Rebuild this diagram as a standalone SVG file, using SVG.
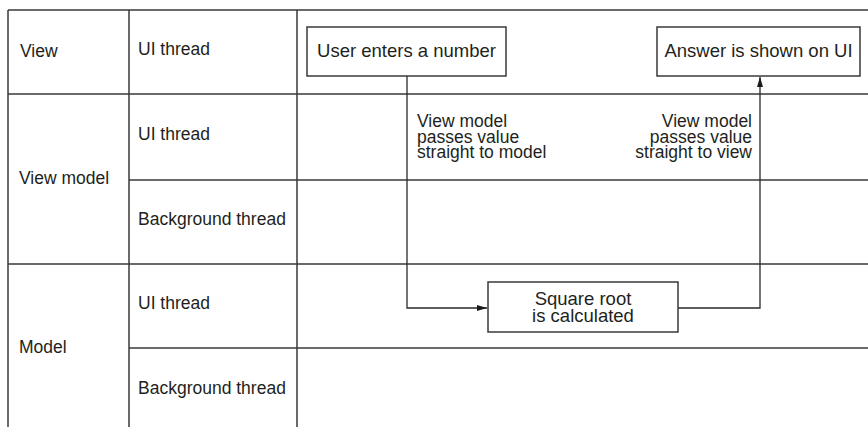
<svg xmlns="http://www.w3.org/2000/svg" width="868" height="427" viewBox="0 0 868 427">
<style>
.grid{stroke:#3a3a3a;stroke-width:1.5;fill:none}
.box{fill:#fff;stroke:#3a3a3a;stroke-width:1.5}
.conn{stroke:#2a2a2a;stroke-width:1.3;fill:none}
.lane{font-family:"Liberation Sans",Arial,sans-serif;font-size:17.5px;fill:#231f20}
.t{font-family:"Liberation Sans",Arial,sans-serif;font-size:18.5px;fill:#231f20}
.note{font-family:"Liberation Sans",Arial,sans-serif;font-size:17.5px;fill:#231f20}
</style>
<defs>
<marker id="arr" viewBox="0 0 10 6" refX="10" refY="3" markerWidth="10" markerHeight="6" markerUnits="userSpaceOnUse" orient="auto">
<path d="M0,0 L10,3 L0,6 z" fill="#1a1a1a"/>
</marker>
</defs>
<rect width="868" height="427" fill="#fff"/>
<g id="grid">
<path class="grid" d="M8,10 H868 M8,94 H868 M129,180 H868 M8,264 H868 M129,348 H868 M8,10 V427 M129,10 V427 M297,10 V427"/>
</g>
<g id="lanes">
<text class="lane" x="20" y="57">View</text>
<text class="lane" x="138" y="55">UI thread</text>
<text class="lane" x="19" y="184">View model</text>
<text class="lane" x="138" y="140">UI thread</text>
<text class="lane" x="138" y="225">Background thread</text>
<text class="lane" x="19" y="353">Model</text>
<text class="lane" x="138" y="309">UI thread</text>
<text class="lane" x="138" y="394">Background thread</text>
</g>
<g id="connectors">
<path class="conn" d="M407,76 V308 H487" marker-end="url(#arr)"/>
<path class="conn" d="M678,308 H760 V77" marker-end="url(#arr)"/>
<text class="note" x="417" y="127">View model<tspan x="417" y="142.5">passes value</tspan><tspan x="417" y="158">straight to model</tspan></text>
<text class="note" x="752" y="127" text-anchor="end">View model<tspan x="752" y="142.5">passes value</tspan><tspan x="752" y="158">straight to view</tspan></text>
</g>
<g id="user-enters">
<rect class="box" x="307" y="27" width="199" height="49"/>
<text class="t" x="406.5" y="57" text-anchor="middle">User enters a number</text>
</g>
<g id="answer-shown">
<rect class="box" x="657" y="27" width="203" height="49"/>
<text class="t" x="758.5" y="57" text-anchor="middle">Answer is shown on UI</text>
</g>
<g id="square-root">
<rect class="box" x="488" y="282" width="190" height="50"/>
<text class="t" x="583" y="305" text-anchor="middle">Square root<tspan x="583" y="322">is calculated</tspan></text>
</g>
</svg>
